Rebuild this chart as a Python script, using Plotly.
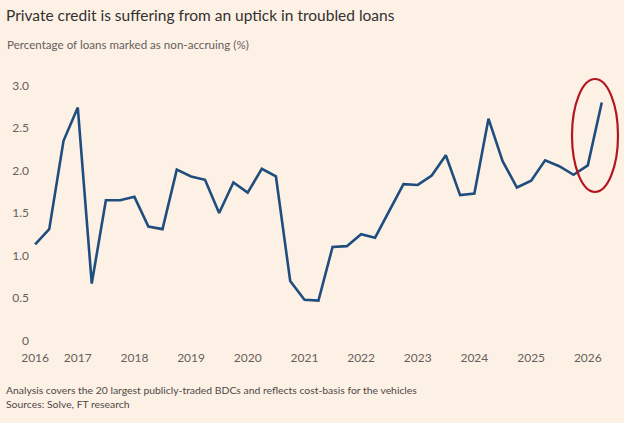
import pandas as pd
import plotly.graph_objects as go

# quarterly share of loans marked non-accruing (%), first point Q2 2016
quarters = pd.date_range("2016-04-01", periods=41, freq="QS")
nonaccrual = [1.13, 1.31, 2.35, 2.74, 0.67, 1.65, 1.65, 1.69, 1.34, 1.31,
              2.01, 1.93, 1.89, 1.50, 1.86, 1.74, 2.02, 1.93, 0.70, 0.48,
              0.47, 1.10, 1.11, 1.25, 1.21, 1.53, 1.84, 1.83, 1.94, 2.18,
              1.71, 1.73, 2.61, 2.11, 1.80, 1.88, 2.12, 2.05, 1.95, 2.06,
              2.80]
year_ticks = ["2016-04-01"] + [f"{y}-01-01" for y in range(2017, 2027)]
year_labels = [str(y) for y in range(2016, 2027)]
y_ticks = [0, 0.5, 1.0, 1.5, 2.0, 2.5, 3.0]
y_labels = ["0", "0.5", "1.0", "1.5", "2.0", "2.5", "3.0"]

BG = "#FDF1E6"
FONT = "Lato"
W, H = 624, 423
ML, MR, MT, MB = 30, 12, 77, 74
PW, PH = W - ML - MR, H - MT - MB

fig = go.Figure()
fig.add_trace(go.Scatter(x=quarters, y=nonaccrual, mode="lines",
                         line=dict(color="#1F4E7E", width=2.6), hoverinfo="x+y"))

# red ring round the latest jump (paper coords so it is not clipped)
fig.add_shape(type="circle", xref="paper", yref="paper",
              x0=(572 - ML) / PW, x1=(618 - ML) / PW,
              y0=(H - MB - 192) / PH, y1=(H - MB - 79) / PH,
              line=dict(color="#B3161E", width=2.2))

fig.update_layout(
    width=W, height=H, paper_bgcolor=BG, plot_bgcolor=BG,
    margin=dict(l=ML, r=MR, t=MT, b=MB), showlegend=False,
    font=dict(family=FONT, color="#66605C", size=12),
    xaxis=dict(range=["2016-02-28", "2026-06-06"], tickvals=year_ticks, ticktext=year_labels,
               showgrid=False, zeroline=False, showline=False, ticks="", automargin=False,
               tickfont=dict(size=12, color="#66605C")),
    yaxis=dict(range=[-0.1, 3.1], tickvals=y_ticks, ticktext=y_labels,
               showgrid=False, zeroline=False, showline=False, ticks="", automargin=False,
               tickfont=dict(size=12, color="#66605C")),
)

fig.add_annotation(text="Private credit is suffering from an uptick in troubled loans",
                   xref="paper", yref="paper", x=-(ML - 4) / PW, y=1 + (MT - 15) / PH,
                   xanchor="left", yanchor="middle", showarrow=False,
                   font=dict(family=FONT, size=15.5, color="#33302E"))
fig.add_annotation(text="Percentage of loans marked as non-accruing (%)",
                   xref="paper", yref="paper", x=-(ML - 5) / PW, y=1 + (MT - 44) / PH,
                   xanchor="left", yanchor="middle", showarrow=False,
                   font=dict(family=FONT, size=11.6, color="#66605C"))
fig.add_annotation(text="Analysis covers the 20 largest publicly-traded BDCs and reflects cost-basis for the vehicles<br>Sources: Solve, FT research",
                   xref="paper", yref="paper", x=-(ML - 4) / PW, y=-(397 - (H - MB)) / PH,
                   xanchor="left", yanchor="middle", align="left", showarrow=False,
                   font=dict(family=FONT, size=10.4, color="#4D4845"))

# drop the page's default body margin so the figure sits at the window corner
fig.write_html("out.html", config={"displayModeBar": False},
               post_script="document.body.style.margin='0';")
